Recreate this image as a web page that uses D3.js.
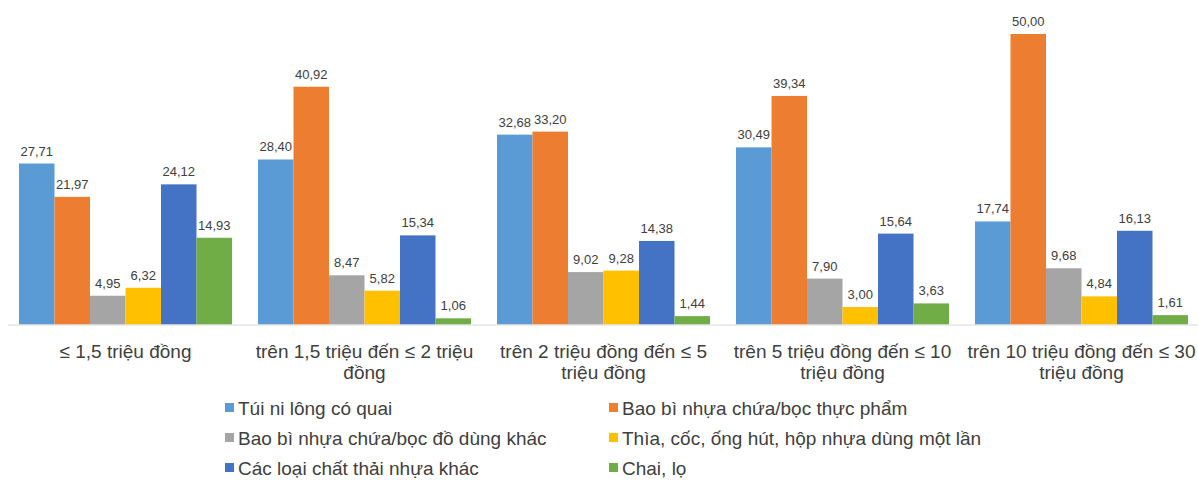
<!DOCTYPE html>
<html>
<head>
<meta charset="utf-8">
<script src="https://cdn.jsdelivr.net/npm/d3@7"></script>
<style>
  html, body { margin: 0; padding: 0; background: #fff; }
  svg { display: block; font-family: "Liberation Sans", Arial, sans-serif; }
</style>
</head>
<body>
<svg id="chart" width="1198" height="481"></svg>
<script>
// Income groups (x axis)
const categories = [
  "≤ 1,5 triệu đồng",
  "trên 1,5 triệu đến ≤ 2 triệu đồng",
  "trên 2 triệu đồng đến ≤ 5 triệu đồng",
  "trên 5 triệu đồng đến ≤ 10 triệu đồng",
  "trên 10 triệu đồng đến ≤ 30 triệu đồng"
];

// Plastic waste types (series)
const seriesNames = [
  "Túi ni lông có quai",
  "Bao bì nhựa chứa/bọc thực phẩm",
  "Bao bì nhựa chứa/bọc đồ dùng khác",
  "Thìa, cốc, ống hút, hộp nhựa dùng một lần",
  "Các loại chất thải nhựa khác",
  "Chai, lọ"
];

// Share (%) per series, one value per income group
const tuiNiLong     = [27.71, 28.40, 32.68, 30.49, 17.74];
const baoBiThucPham = [21.97, 40.92, 33.20, 39.34, 50.00];
const baoBiDoDung   = [4.95, 8.47, 9.02, 7.90, 9.68];
const dungMotLan    = [6.32, 5.82, 9.28, 3.00, 4.84];
const nhuaKhac      = [24.12, 15.34, 14.38, 15.64, 16.13];
const chaiLo        = [14.93, 1.06, 1.44, 3.63, 1.61];

const seriesValues = [tuiNiLong, baoBiThucPham, baoBiDoDung, dungMotLan, nhuaKhac, chaiLo];
const colors = ["#5B9BD5", "#ED7D31", "#A5A5A5", "#FFC000", "#4472C4", "#70AD47"];

const svg = d3.select("#chart");
const baseY = 324.5;
const labelSize = 19;

const x0 = d3.scaleBand().domain(d3.range(categories.length)).range([6, 1201]).padding(0);
const x1 = d3.scaleBand().domain(d3.range(seriesNames.length))
  .range([13, x0.bandwidth() - 13]).padding(0);
const y = d3.scaleLinear().domain([0, 50]).range([baseY, 34]);

const fmt = v => v.toFixed(2).replace(".", ",");

// Bars
const groups = svg.append("g").selectAll("g")
  .data(categories.map((c, i) => i))
  .join("g")
  .attr("transform", i => `translate(${x0(i)},0)`);

groups.selectAll("rect")
  .data(i => seriesValues.map((s, k) => ({ k, v: s[i] })))
  .join("rect")
  .attr("x", d => x1(d.k))
  .attr("width", x1.bandwidth())
  .attr("y", d => y(d.v))
  .attr("height", d => baseY - y(d.v))
  .attr("fill", d => colors[d.k]);

// Value labels above each bar
groups.selectAll("text.val")
  .data(i => seriesValues.map((s, k) => ({ k, v: s[i] })))
  .join("text")
  .attr("class", "val")
  .attr("x", d => x1(d.k) + x1.bandwidth() / 2)
  .attr("y", d => y(d.v) - 8)
  .attr("text-anchor", "middle")
  .attr("font-size", 13)
  .attr("fill", "#404040")
  .text(d => fmt(d.v));

// Baseline axis
const xAxis = d3.axisBottom(x0).tickSize(0).tickFormat("");
const axisG = svg.append("g").attr("transform", `translate(0,${baseY})`).call(xAxis);
axisG.select(".domain").attr("stroke", "#D9D9D9").attr("d", "M8,0.5H1198");

// Category labels, wrapped to the group width
function wrapLines(text, maxW, size) {
  const ctx = document.createElement("canvas").getContext("2d");
  ctx.font = `${size}px "Liberation Sans", Arial, sans-serif`;
  const words = text.split(" ");
  const lines = [];
  let line = "";
  words.forEach(w => {
    const t = line ? line + " " + w : w;
    if (ctx.measureText(t).width > maxW && line) { lines.push(line); line = w; }
    else line = t;
  });
  if (line) lines.push(line);
  return lines;
}

categories.forEach((c, i) => {
  const cx = x0(i) + x0.bandwidth() / 2;
  const lines = wrapLines(c, 236, labelSize);
  const t = svg.append("text")
    .attr("x", cx)
    .attr("y", 358)
    .attr("text-anchor", "middle")
    .attr("font-size", labelSize)
    .attr("fill", "#404040");
  lines.forEach((l, j) => {
    t.append("tspan").attr("x", cx).attr("dy", j === 0 ? 0 : 21).text(l);
  });
});

// Legend: two columns, three rows
const legend = svg.append("g");
seriesNames.forEach((name, k) => {
  const col = k % 2, row = Math.floor(k / 2);
  const lx = col === 0 ? 225 : 609;
  const ly = 408 + row * 30;
  legend.append("rect")
    .attr("x", lx).attr("y", ly - 5).attr("width", 9).attr("height", 9)
    .attr("fill", colors[k]);
  legend.append("text")
    .attr("x", lx + 13).attr("y", ly + 7)
    .attr("font-size", labelSize).attr("fill", "#404040")
    .text(name);
});
</script>
</body>
</html>
